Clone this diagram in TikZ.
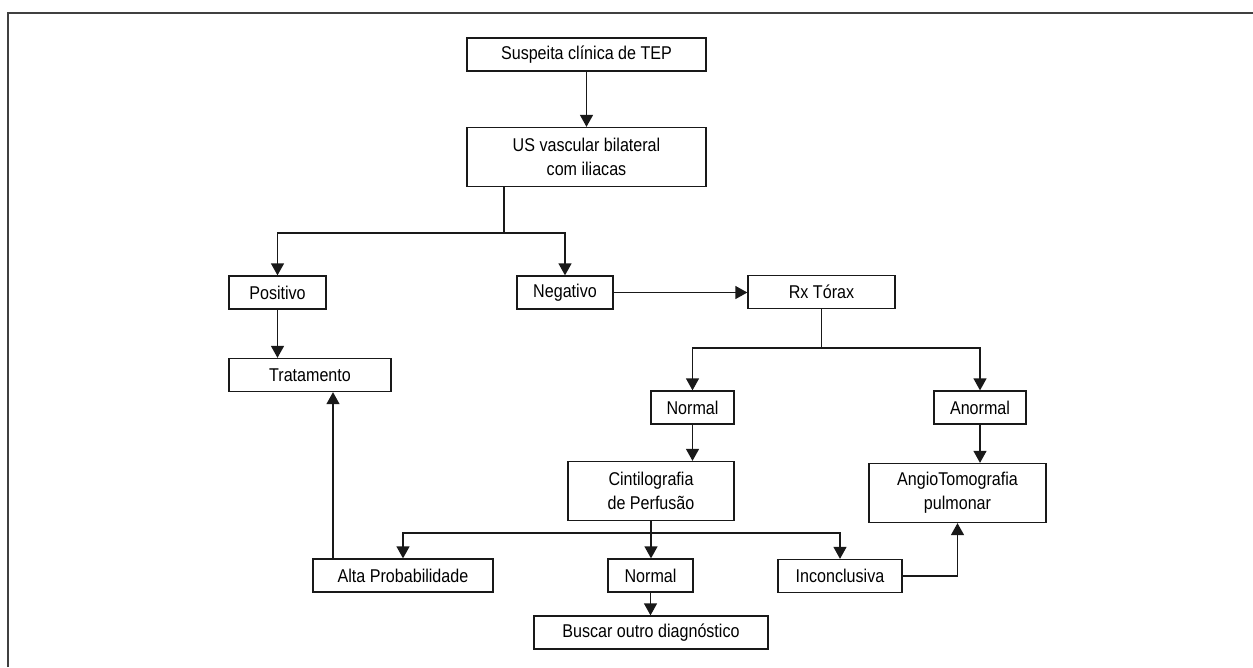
\documentclass[tikz,border=0pt]{standalone}
\usepackage{fontspec}
\setmainfont{Liberation Sans}[FakeStretch=0.87]
\usetikzlibrary{positioning, arrows.meta}
\definecolor{lineDark}  {RGB}{ 25, 25, 25}
\definecolor{frameGray} {RGB}{ 64, 64, 64}
\tikzset{
  stepbox/.style={
    rectangle, draw=lineDark, line width=1.3pt,
    fill=white, align=center,
    font=\fontsize{18.5}{24}\selectfont,
    inner sep=0pt, minimum height=33pt
  },
  %% two-line box
  tallbox/.style={
    stepbox, minimum height=59pt
  },
  %% standard arrow
  arr/.style={
    -{Triangle[length=12pt,width=13pt]},
    line width=1.3pt, color=lineDark
  },
  %% plain connector (no tip)
  lnk/.style={
    line width=1.3pt, color=lineDark
  },
  %% page frame (top and left edges only)
  pageframe/.style={
    line width=2pt, color=frameGray
  }
}

\begin{document}
\begin{tikzpicture}[x=1pt, y=-1pt]

\path[fill=white, use as bounding box] (0,0) rectangle (1253,667);
\draw[pageframe] (8,667) -- (8,13) -- (1253,13);

%% ═══════════════════════════════════════════════════════════
%%  TOP  (suspicion and vascular US)
%% ═══════════════════════════════════════════════════════════

\node[stepbox, minimum width=239pt] (sus) at (586.5, 54.5) {Suspeita clínica de TEP};
\node[tallbox, minimum width=239pt] (us)  at (586.5, 157)  {US vascular bilateral\\com iliacas};

\node[stepbox, minimum width=97pt]  (pos)  at (277.5, 292.5) {Positivo};
\node[stepbox, minimum width=96pt]  (neg)  at (565, 292.5)   {Negativo};
\node[stepbox, minimum width=162pt] (trat) at (310, 375)     {Tratamento};

%% ═══════════════════════════════════════════════════════════
%%  CHEST X-RAY BRANCH
%% ═══════════════════════════════════════════════════════════

\node[stepbox, minimum width=147pt] (rx)    at (821.5, 292)  {Rx Tórax};
\node[stepbox, minimum width=83pt]  (nrmA)  at (692.5, 407.5) {Normal};
\node[stepbox, minimum width=92pt]  (anorm) at (980, 407.5)   {Anormal};

\node[tallbox, minimum width=166pt] (cint)  at (651, 491)    {Cintilografia\\de Perfusão};
\node[tallbox, minimum width=177pt] (angio) at (957.5, 493)  {AngioTomografia\\pulmonar};

%% ═══════════════════════════════════════════════════════════
%%  SCINTIGRAPHY RESULTS
%% ═══════════════════════════════════════════════════════════

\node[stepbox, minimum width=180pt] (alta)   at (403, 575.5)   {Alta Probabilidade};
\node[stepbox, minimum width=85pt]  (nrmB)   at (650.5, 575.5) {Normal};
\node[stepbox, minimum width=124pt] (inconc) at (840, 576)     {Inconclusiva};
\node[stepbox, minimum width=234pt] (busca)  at (651, 632.5)   {Buscar outro diagnóstico};

%% ═══════════════════════════════════════════════════════════
%%  CONNECTORS
%% ═══════════════════════════════════════════════════════════

\coordinate (forkUS)   at (504, 233);
\coordinate (forkRx)   at (821.5, 348);
\coordinate (forkCint) at (651, 533);

\draw[arr] (sus) -- (us);

% US splits into positive / negative
\draw[lnk] (us.south -| forkUS) -- (forkUS);
\draw[arr] (forkUS) -| (pos.north);
\draw[arr] (forkUS) -| (neg.north);
\draw[arr] (pos) -- (pos |- trat.north);
\draw[arr] (neg.east) -- (neg.east -| rx.west);

% Rx splits into normal / abnormal
\draw[lnk] (rx) -- (forkRx);
\draw[arr] (forkRx) -| (nrmA.north);
\draw[arr] (forkRx) -| (anorm.north);
\draw[arr] (nrmA) -- (nrmA |- cint.north);
\draw[arr] (anorm) -- (anorm |- angio.north);

% scintigraphy results
\draw[lnk] (cint) -- (forkCint);
\draw[arr] (forkCint) -| (alta.north);
\draw[arr] (forkCint) -- (forkCint |- nrmB.north);
\draw[arr] (forkCint) -| (inconc.north);
\draw[arr] (nrmB) -- (nrmB |- busca.north);

% back to treatment / on to angio-CT
\draw[arr] ([xshift=-70pt]alta.north) -- ([xshift=-70pt]alta.north |- trat.south);
\draw[arr] (inconc.east) -| (angio.south);

\end{tikzpicture}
\end{document}
